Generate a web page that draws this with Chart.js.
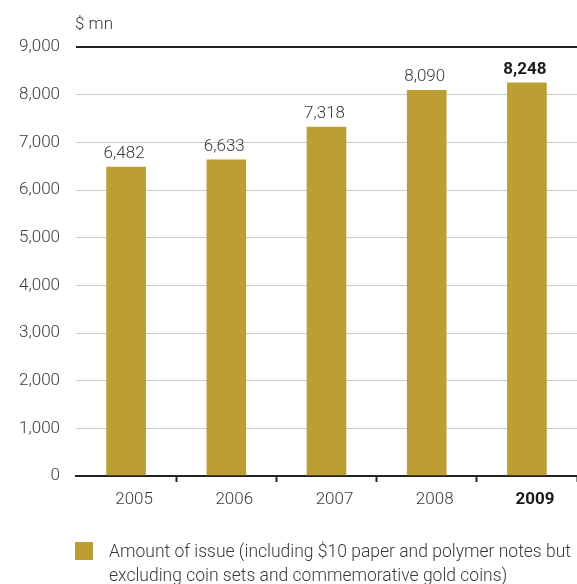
<!DOCTYPE html>
<html>
<head>
<meta charset="utf-8">
<script src="https://cdn.jsdelivr.net/npm/chart.js@4.4.0/dist/chart.umd.min.js"></script>
<style>
  html, body { margin: 0; padding: 0; background: #fff; }
  #wrap { position: relative; width: 577px; height: 584px; overflow: hidden; }
  #legend {
    position: absolute; left: 75px; top: 542px;
    font-family: Roboto, "Noto Sans", sans-serif; font-weight: 300;
    font-size: 17.5px; line-height: 24px; color: #3a3a3a;
  }
  #legend .box { position: absolute; left: 0; top: 0; width: 18px; height: 18px; background: #bc9e35; }
  #legend .txt { position: absolute; left: 34px; top: -3px; width: 475px; }
</style>
</head>
<body>
<div id="wrap">
  <canvas id="issueChart" width="577" height="584"></canvas>
  <div id="legend">
    <div class="box"></div>
    <div class="txt"></div>
  </div>
</div>
<script>
// 데이터
const years = ['2005', '2006', '2007', '2008', '2009'];
const amounts = [6482, 6633, 7318, 8090, 8248];
const yTicks = [0, 1000, 2000, 3000, 4000, 5000, 6000, 7000, 8000, 9000];
const unitLabel = '$ mn';
const legendLabel = 'Amount of issue (including $10 paper and polymer notes but excluding coin sets and commemorative gold coins)';

const FONT = 'Roboto, "Noto Sans", sans-serif';
const GOLD = '#bc9e35';
const lastIdx = years.length - 1;

// 막대 위 값 표시 + 단위 라벨
const valueLabels = {
  id: 'valueLabels',
  afterDatasetsDraw(chart) {
    const ctx = chart.ctx;
    const meta = chart.getDatasetMeta(0);
    ctx.save();
    ctx.textAlign = 'center';
    ctx.textBaseline = 'bottom';
    meta.data.forEach((bar, i) => {
      const bold = i === lastIdx;
      ctx.font = (bold ? '700 ' : '300 ') + '17px ' + FONT;
      ctx.fillStyle = bold ? '#1a1a1a' : '#3a3a3a';
      ctx.fillText(amounts[i].toLocaleString('en-US'), bar.x - 2, bar.y - 5);
    });
    ctx.font = '300 17px ' + FONT;
    ctx.fillStyle = '#3a3a3a';
    ctx.textAlign = 'left';
    ctx.textBaseline = 'alphabetic';
    ctx.fillText(unitLabel, chart.chartArea.left - 1, 29);
    ctx.restore();
  }
};

// 범례 텍스트
document.querySelector('#legend .txt').textContent = legendLabel;

const chart = new Chart(document.getElementById('issueChart'), {
  type: 'bar',
  data: {
    labels: years,
    datasets: [{
      label: legendLabel,
      data: amounts,
      backgroundColor: GOLD,
      borderWidth: 0,
      barThickness: 39,
    }],
  },
  options: {
    responsive: false,
    animation: false,
    layout: { padding: { top: 47, right: 0, bottom: 68, left: 0 } },
    plugins: {
      legend: { display: false },
      tooltip: { enabled: false },
    },
    scales: {
      x: {
        border: { display: true, color: '#222', width: 2 },
        grid: {
          offset: true,
          drawOnChartArea: false,
          tickLength: 6,
          tickWidth: 2,
          tickColor: (c) => (c.index === 0 || c.index === years.length) ? 'rgba(0,0,0,0)' : '#222',
        },
        ticks: {
          padding: 8,
          labelOffset: 8,
          color: (c) => c.index === lastIdx ? '#1a1a1a' : '#3a3a3a',
          font: (c) => ({ family: FONT, size: 17, weight: c.index === lastIdx ? '700' : '300' }),
        },
        afterFit: (s) => { s.height = 40; },
      },
      y: {
        min: 0,
        max: 9000,
        border: { display: false },
        afterBuildTicks: (s) => { s.ticks = yTicks.map(v => ({ value: v })); },
        grid: {
          drawTicks: false,
          color: (c) => (c.tick && (c.tick.value === 9000 || c.tick.value === 0)) ? '#222' : '#cccccc',
          lineWidth: (c) => (c.tick && (c.tick.value === 9000 || c.tick.value === 0)) ? 2 : 1,
        },
        ticks: {
          padding: 16,
          color: '#3a3a3a',
          font: { family: FONT, size: 17, weight: '300' },
          callback: (v) => v.toLocaleString('en-US'),
        },
        afterFit: (s) => { s.width = 76; },
      },
    },
  },
  plugins: [valueLabels],
});
</script>
</body>
</html>
